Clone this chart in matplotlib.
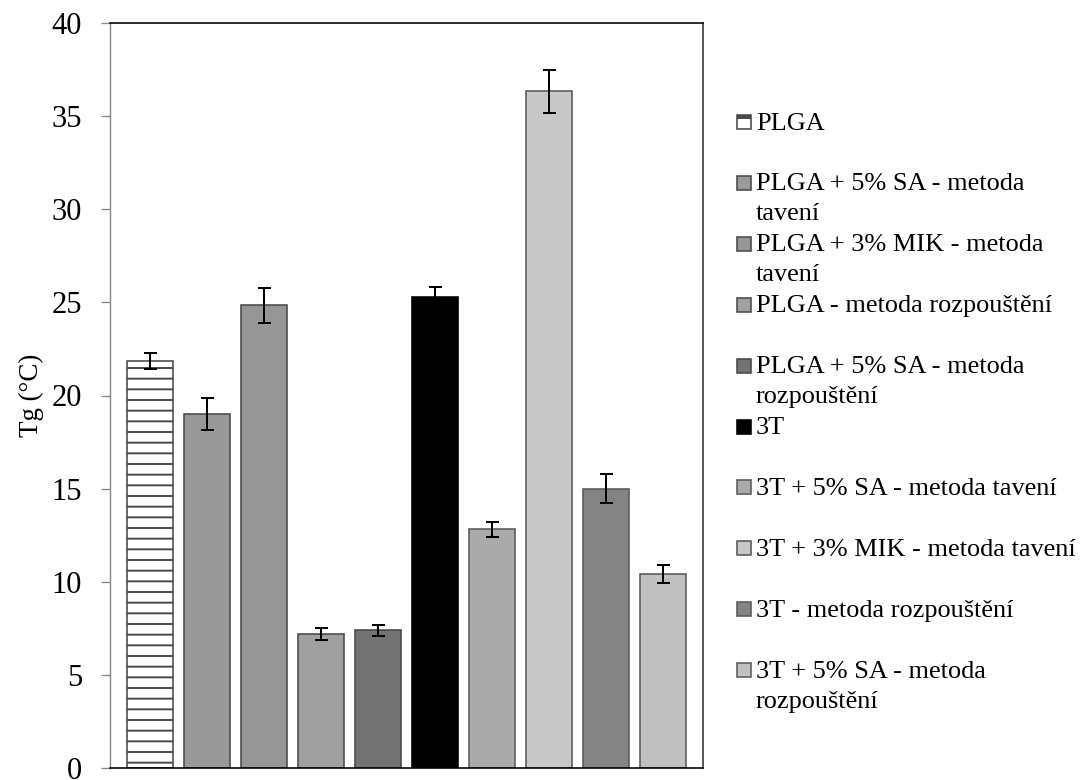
import matplotlib
matplotlib.use("Agg")
import matplotlib.pyplot as plt
from matplotlib.patches import Rectangle
import numpy as np

# ---- data ----
labels = [
    "PLGA",
    "PLGA + 5% SA - metoda\ntavení",
    "PLGA + 3% MIK - metoda\ntavení",
    "PLGA - metoda rozpouštění",
    "PLGA + 5% SA - metoda\nrozpouštění",
    "3T",
    "3T + 5% SA - metoda tavení",
    "3T + 3% MIK - metoda tavení",
    "3T - metoda rozpouštění",
    "3T + 5% SA - metoda\nrozpouštění",
]
tg_values = [21.85, 19.0, 24.85, 7.2, 7.38, 25.3, 12.8, 36.35, 15.0, 10.4]
tg_errors = [0.45, 0.86, 0.95, 0.32, 0.29, 0.52, 0.4, 1.15, 0.76, 0.47]
y_ticks = [0, 5, 10, 15, 20, 25, 30, 35, 40]

# ---- styles ----
fills = ["white", "#999999", "#969696", "#a0a0a0", "#737373",
         "#000000", "#aaaaaa", "#c8c8c8", "#848484", "#c0c0c0"]
edges = ["#4a4a4a"] * 5 + ["#000000"] + ["#5a5a5a"] * 4
hatches = ["-"] + [None] * 9

DPI = 64
W, H = 1086, 780
plt.rcParams["font.family"] = ["Liberation Serif", "DejaVu Serif"]
plt.rcParams["hatch.linewidth"] = 2.2

def pt(px):
    return px * 72.0 / DPI

fig = plt.figure(figsize=(W / DPI, H / DPI), dpi=DPI)
ax = fig.add_axes([110 / W, 1 - 767.7 / H, (703 - 110) / W, (767.7 - 23.3) / H])

x = np.arange(len(tg_values))
for i in range(len(tg_values)):
    ax.bar(x[i], tg_values[i], width=0.815, color=fills[i], edgecolor=edges[i],
           linewidth=pt(1.6), hatch=hatches[i], zorder=2)
ax.errorbar(x, tg_values, yerr=tg_errors, fmt="none", ecolor="black",
            elinewidth=pt(2.0), capsize=pt(6.5), capthick=pt(2.0), zorder=3)

ax.set_xlim(-0.7, len(tg_values) - 0.3)
ax.set_ylim(0, 40)
ax.set_yticks(y_ticks)
ax.set_xticks([])
ax.tick_params(axis="y", direction="out", length=pt(9), width=pt(1.3),
               color="#868686", pad=pt(19), labelsize=pt(30.5))
ax.set_ylabel("Tg (°C)", fontsize=pt(27))
ax.yaxis.set_label_coords((31 - 110) / (703 - 110), 0.5)
ax.yaxis.label.set_verticalalignment("center")

for side in ["top", "right", "bottom"]:
    ax.spines[side].set_color("black")
    ax.spines[side].set_linewidth(pt(1.6))
ax.spines["right"].set_color("#333333")
ax.spines["left"].set_color("#868686")
ax.spines["left"].set_linewidth(pt(1.4))

# ---- legend drawn in figure pixels ----
first_center = 122.0
row_step = 60.9
line_step = 30.0
for i, lab in enumerate(labels):
    cy = first_center + i * row_step
    fig.patches.append(Rectangle((737 / W, 1 - (cy + 7) / H), 14 / W, 14 / H,
                                 transform=fig.transFigure, facecolor=fills[i],
                                 edgecolor=edges[i], linewidth=pt(1.6)))
    if hatches[i]:
        # thick top line of the hatched swatch
        fig.patches.append(Rectangle((737 / W, 1 - (cy - 3) / H), 14 / W, 4 / H,
                                     transform=fig.transFigure,
                                     facecolor=edges[i], edgecolor="none"))
    for j, line in enumerate(lab.split("\n")):
        fig.text(756 / W, 1 - (cy + 1.5 + j * line_step) / H, line,
                 fontsize=pt(26.2), ha="left", va="center", color="black")

fig.savefig("out.png", dpi=DPI)
